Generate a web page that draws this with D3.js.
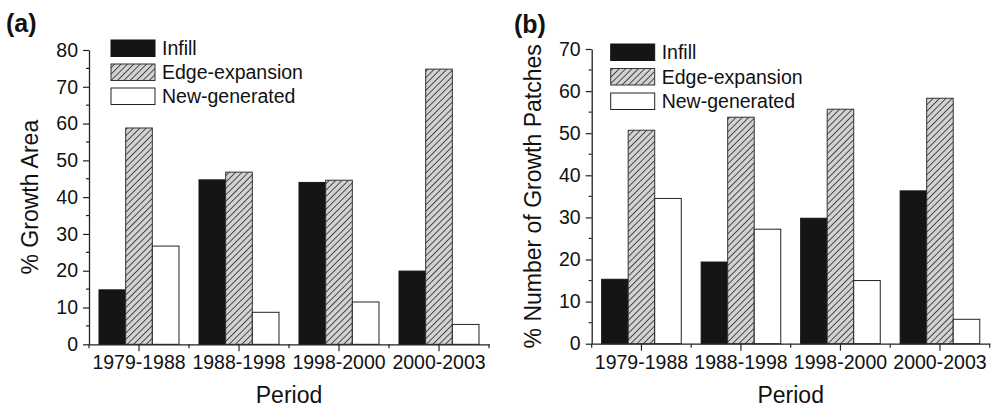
<!DOCTYPE html>
<html>
<head>
<meta charset="utf-8">
<script src="https://cdn.jsdelivr.net/npm/d3@7"></script>
<style>
  html, body { margin: 0; padding: 0; background: #fff; }
  svg { display: block; font-family: "Liberation Sans", Arial, Helvetica, sans-serif; }
</style>
</head>
<body>
<svg id="chart" width="991" height="407"></svg>
<script>
const periods = ["1979-1988", "1988-1998", "1998-2000", "2000-2003"];
const seriesNames = ["Infill", "Edge-expansion", "New-generated"];
const areaInfill = [14.8, 44.7, 44.0, 19.9];
const areaEdge = [58.8, 46.8, 44.6, 74.8];
const areaNew = [26.7, 8.7, 11.5, 5.4];
const patchInfill = [15.3, 19.4, 29.8, 36.3];
const patchEdge = [50.7, 53.8, 55.7, 58.3];
const patchNew = [34.5, 27.2, 15.0, 5.8];
const areaTicks = [0, 10, 20, 30, 40, 50, 60, 70, 80];
const patchTicks = [0, 10, 20, 30, 40, 50, 60, 70];

const svg = d3.select("#chart");
const defs = svg.append("defs");
const pat = defs.append("pattern")
  .attr("id", "hatch").attr("patternUnits", "userSpaceOnUse")
  .attr("width", 4.5).attr("height", 4.5)
  .attr("patternTransform", "rotate(45)");
pat.append("rect").attr("width", 4.5).attr("height", 4.5).attr("fill", "#d2d2d2");
pat.append("line").attr("x1", 0).attr("y1", 0).attr("x2", 0).attr("y2", 4.5)
  .attr("stroke", "#2a2a2a").attr("stroke-width", 1.6);

const fills = ["#151515", "url(#hatch)", "#ffffff"];
const strokes = ["#151515", "#333", "#222"];

function panel(cfg) {
  const g = svg.append("g");
  const x = d3.scaleBand().domain(periods).range([cfg.x0, cfg.x1]).paddingInner(0).paddingOuter(0);
  const xs = d3.scaleBand().domain(seriesNames).range([0, x.bandwidth()]).paddingInner(0).paddingOuter(0.375);
  const y = d3.scaleLinear().domain([0, cfg.ymax]).range([cfg.y0, cfg.y1]);

  const seriesVals = cfg.values;
  seriesNames.forEach((s, si) => {
    g.append("g").selectAll("rect").data(periods).join("rect")
      .attr("x", (d) => x(d) + xs(s))
      .attr("y", (d, i) => y(seriesVals[si][i]))
      .attr("width", xs.bandwidth())
      .attr("height", (d, i) => y(0) - y(seriesVals[si][i]))
      .attr("fill", fills[si])
      .attr("stroke", strokes[si])
      .attr("stroke-width", 1);
  });

  const minor = d3.range(5, cfg.ymax, 10);
  const yAxis = g.append("g").attr("transform", `translate(${cfg.x0},0)`)
    .call(d3.axisLeft(y).tickValues(cfg.ticks).tickSize(6).tickPadding(5).tickSizeOuter(0));
  yAxis.attr("font-family", null);
  yAxis.selectAll("text").attr("font-size", 19.5).attr("fill", "#111");
  yAxis.select(".domain").attr("stroke", "#222").attr("stroke-width", 1.3);
  yAxis.selectAll(".tick line").attr("stroke", "#222").attr("stroke-width", 1.2);
  g.append("g").selectAll("line").data(minor).join("line")
    .attr("x1", cfg.x0 - 3).attr("x2", cfg.x0)
    .attr("y1", (d) => y(d)).attr("y2", (d) => y(d))
    .attr("stroke", "#222").attr("stroke-width", 1.2);

  const xAxis = g.append("g").attr("transform", `translate(0,${cfg.y0})`)
    .call(d3.axisBottom(x).tickSize(7).tickPadding(4).tickSizeOuter(0));
  xAxis.attr("font-family", null);
  xAxis.selectAll("text").attr("font-size", 19.5).attr("fill", "#111");
  xAxis.select(".domain").attr("stroke", "#222").attr("stroke-width", 1.3);
  xAxis.selectAll(".tick line").attr("stroke", "#222").attr("stroke-width", 1.2);
  const bounds = periods.map((p) => x(p)).concat([cfg.x1]);
  g.append("g").selectAll("line").data(bounds).join("line")
    .attr("x1", (d) => d).attr("x2", (d) => d)
    .attr("y1", cfg.y0).attr("y2", cfg.y0 + 4)
    .attr("stroke", "#222").attr("stroke-width", 1.2);

  g.append("text").attr("x", (cfg.x0 + cfg.x1) / 2).attr("y", 402.5)
    .attr("text-anchor", "middle").attr("font-size", 23).attr("fill", "#111").text("Period");
  g.append("text")
    .attr("transform", `translate(${cfg.titleX},${(cfg.y0 + cfg.y1) / 2}) rotate(-90)`)
    .attr("text-anchor", "middle").attr("font-size", 23).attr("fill", "#111").text(cfg.ytitle);

  g.append("text").attr("x", cfg.labelX).attr("y", cfg.labelY)
    .attr("font-size", 25).attr("font-weight", "bold").attr("fill", "#111").text(cfg.label);

  const lg = g.append("g");
  seriesNames.forEach((s, si) => {
    const yy = cfg.legY + si * cfg.legStep;
    lg.append("rect").attr("x", cfg.legX).attr("y", yy).attr("width", 44).attr("height", 16.5)
      .attr("fill", fills[si]).attr("stroke", strokes[si]).attr("stroke-width", 1);
    lg.append("text").attr("x", cfg.legX + 51).attr("y", yy + 8.5).attr("dy", "0.35em")
      .attr("font-size", 19.5).attr("fill", "#111").text(s);
  });
}

panel({
  x0: 89, x1: 489, y0: 344.3, y1: 50, ymax: 80, ticks: areaTicks,
  values: [areaInfill, areaEdge, areaNew],
  ytitle: "% Growth Area", titleX: 37.5,
  label: "(a)", labelX: 6, labelY: 32,
  legX: 111, legY: 40, legStep: 24
});
panel({
  x0: 591.7, x1: 989.7, y0: 343.7, y1: 49, ymax: 70, ticks: patchTicks,
  values: [patchInfill, patchEdge, patchNew],
  ytitle: "% Number of Growth Patches", titleX: 541,
  label: "(b)", labelX: 514, labelY: 33,
  legX: 610.7, legY: 44, legStep: 24.5
});
</script>
</body>
</html>
